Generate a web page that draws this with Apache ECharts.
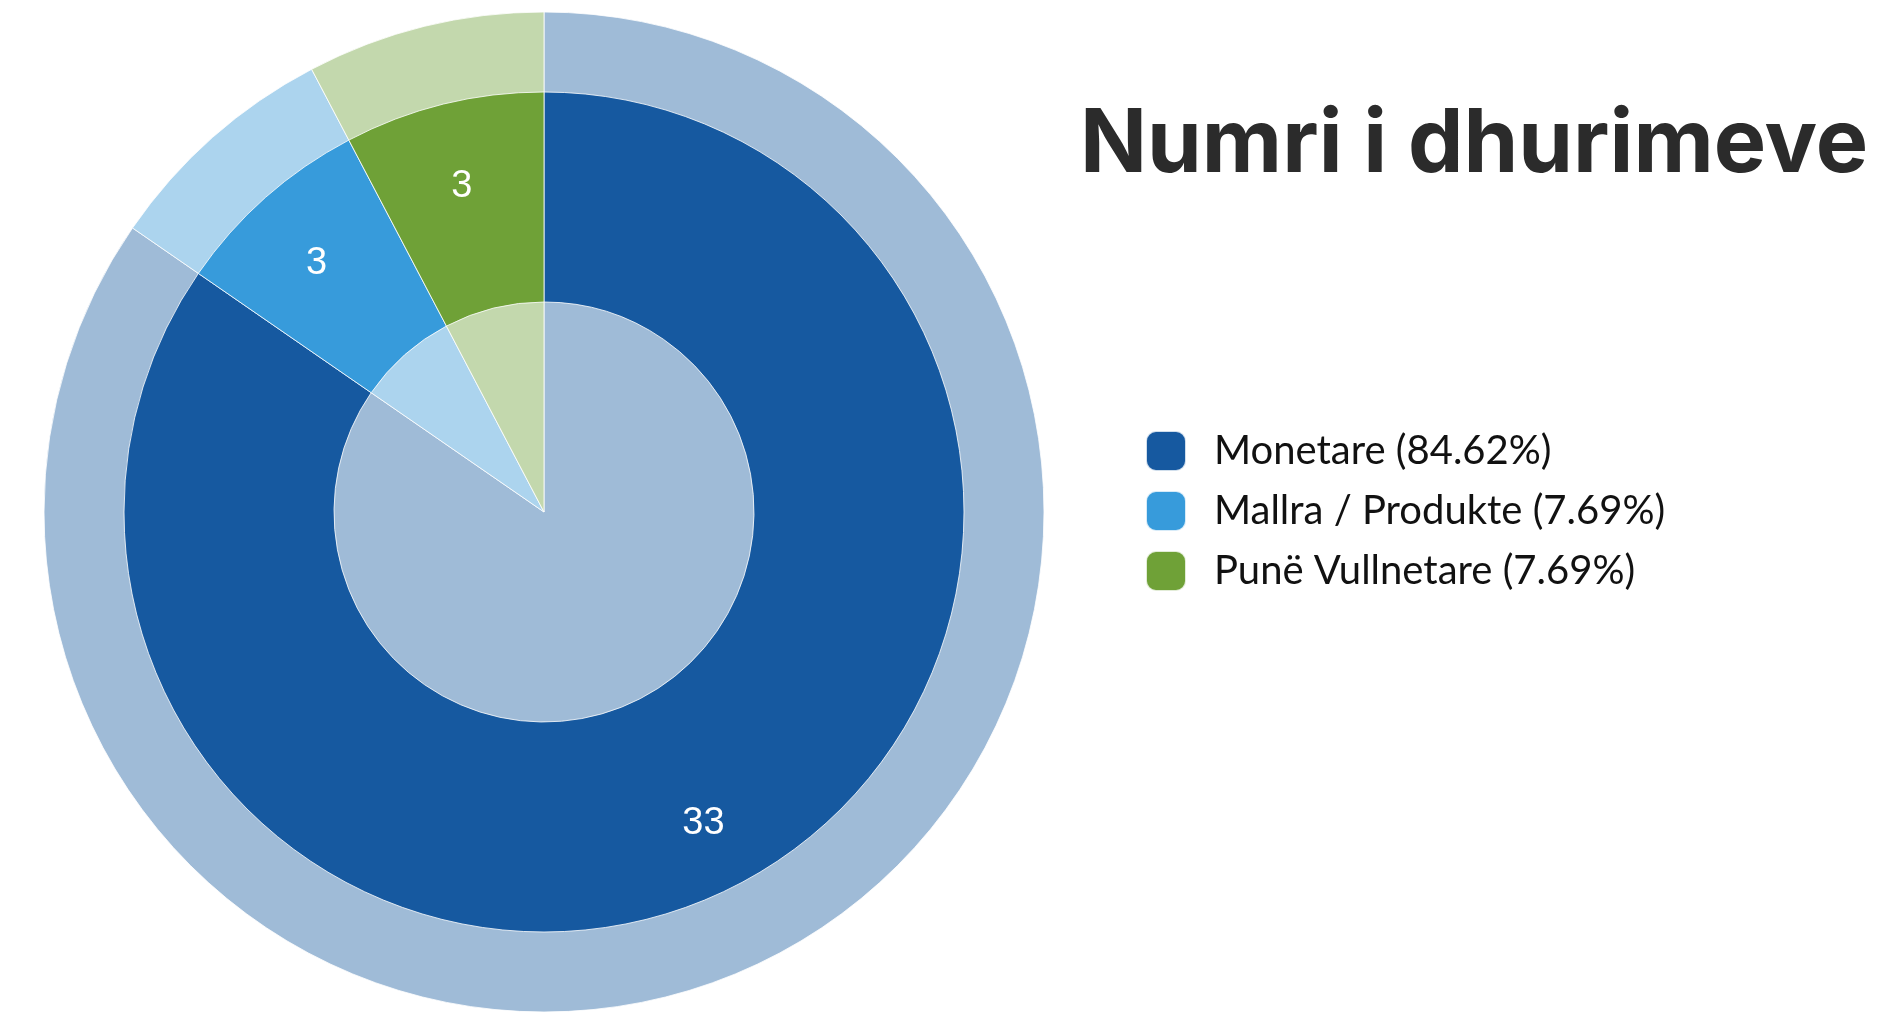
<!DOCTYPE html>
<html>
<head>
<meta charset="utf-8">
<title>Numri i dhurimeve</title>
<script src="https://cdn.jsdelivr.net/npm/echarts@6/dist/echarts.min.js"></script>
<style>
  html, body { margin: 0; padding: 0; background: #fff; }
  #chart { width: 1885px; height: 1012px; }
</style>
</head>
<body>
<div id="chart"></div>
<script>
// ===== 数据 =====
var categories = ['Monetare', 'Mallra / Produkte', 'Punë Vullnetare'];
var values = [33, 3, 3];
var darkColors = ['#1659a0', '#379bdb', '#6fa137'];
var lightColors = ['#9fbbd7', '#acd4ee', '#c3d8ad'];

var total = values.reduce(function (a, b) { return a + b; }, 0);

function buildData(colors) {
    return categories.map(function (name, i) {
        return { name: name, value: values[i], itemStyle: { color: colors[i] } };
    });
}

var chart = echarts.init(document.getElementById('chart'));
var center = [544, 512];

chart.setOption({
    backgroundColor: '#fff',
    animation: false,
    title: {
        text: 'Numri i dhurimeve',
        left: 1080,
        top: 102,
        padding: 0,
        textStyle: {
            fontFamily: 'Inter',
            fontWeight: 700,
            fontSize: 88,
            color: '#2b2b2b'
        }
    },
    legend: {
        orient: 'vertical',
        left: 1145,
        top: 428,
        padding: 0,
        itemWidth: 40,
        itemHeight: 40,
        itemGap: 14,
        icon: 'roundRect',
        selectedMode: false,
        data: categories,
        formatter: function (name) {
            var v = values[categories.indexOf(name)];
            return name + ' (' + (v / total * 100).toFixed(2) + '%)';
        },
        textStyle: {
            fontFamily: 'Lato',
            fontSize: 40,
            lineHeight: 40,
            color: '#111',
            padding: [6, 0, 0, 23]
        }
    },
    series: [
        {
            // 深色环
            name: 'ring',
            type: 'pie',
            center: center,
            radius: [210, 420],
            startAngle: 90,
            clockwise: true,
            z: 3,
            silent: true,
            label: { show: false },
            labelLine: { show: false },
            itemStyle: { borderColor: 'rgba(255,255,255,0.8)', borderWidth: 1 },
            data: buildData(darkColors)
        },
        {
            // 浅色底盘
            name: 'base',
            type: 'pie',
            center: center,
            radius: [0, 500],
            startAngle: 90,
            clockwise: true,
            z: 1,
            silent: true,
            label: { show: false },
            labelLine: { show: false },
            itemStyle: { borderColor: 'rgba(255,255,255,0.8)', borderWidth: 1 },
            data: buildData(lightColors)
        },
        {
            // 数值标签
            name: 'labels',
            type: 'pie',
            center: center,
            radius: [262, 418],
            startAngle: 90,
            clockwise: true,
            z: 4,
            silent: true,
            labelLine: { show: false },
            label: {
                show: true,
                position: 'inside',
                formatter: '{c}',
                fontFamily: 'Liberation Sans',
                fontSize: 38,
                color: '#fff',
                offset: [0, 8]
            },
            itemStyle: { color: 'transparent' },
            data: categories.map(function (name, i) {
                return { name: name, value: values[i], itemStyle: { color: 'transparent' } };
            })
        }
    ]
});
</script>
</body>
</html>
